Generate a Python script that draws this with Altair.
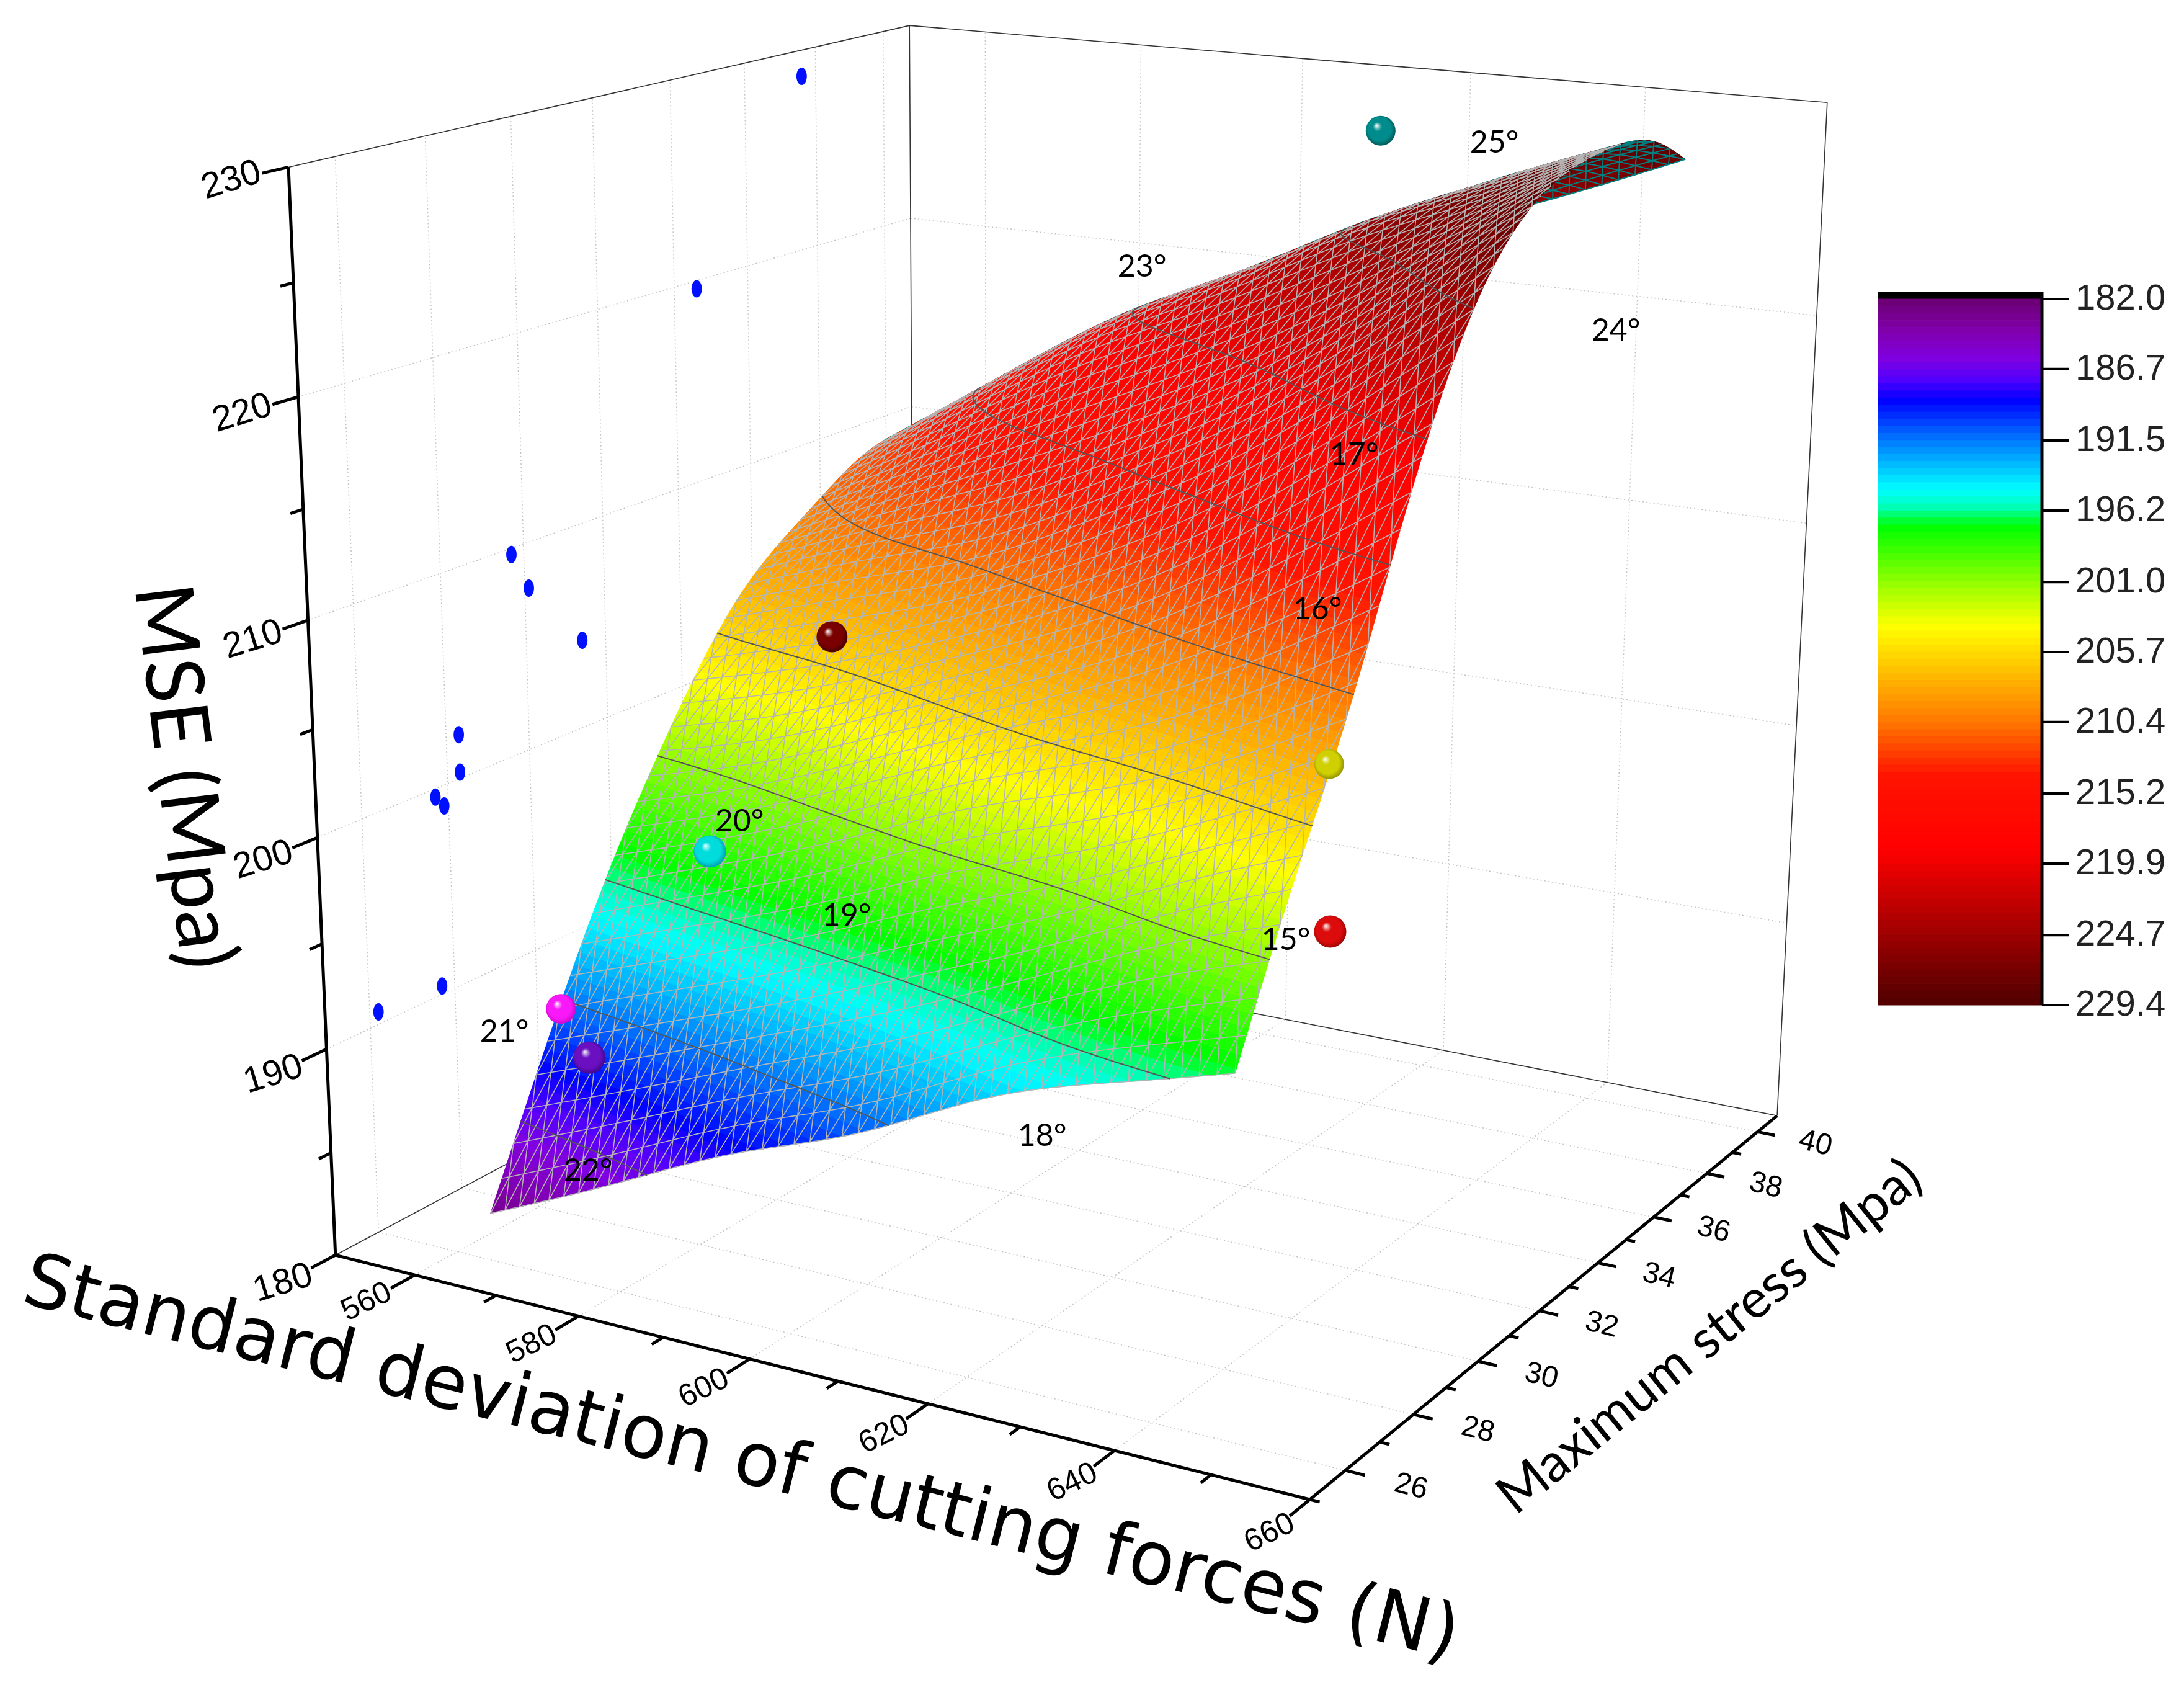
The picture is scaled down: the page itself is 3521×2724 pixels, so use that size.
import numpy as np
import altair as alt

alt.data_transformers.disable_max_rows()

# ---------- values ----------
F_TICKS = [560, 580, 600, 620, 640, 660]
F_MINOR = [570, 590, 610, 630, 650]
S_TICKS = [26, 28, 30, 32, 34, 36, 38, 40]
S_MINOR = [27, 29, 31, 33, 35, 37, 39]
Z_TICKS = [180, 190, 200, 210, 220, 230]
Z_MINOR = [185, 195, 205, 215, 225]
F_RANGE = (550.0, 660.0)
S_RANGE = (25.0, 40.8)
Z_RANGE = (180.0, 230.0)
BAR_TICKS = [182.0, 186.7, 191.5, 196.2, 201.0, 205.7, 210.4, 215.2, 219.9, 224.7, 229.4]

# Surface: MSE read (via its contour lines and colours) at these nodes.
# The nodes are resampled with a spline only to draw a smooth shaded mesh.
SURF_F = [567, 582, 596, 610, 625, 640, 650]
SURF_S = [25.5, 27, 28.5, 30, 32, 34, 36, 38, 39]
SURF_Z = [
    [183.1, 190.0, 196.3, 201.5, 207.0, 210.0, 212.0, 211.0, 209.5],
    [185.9, 192.2, 198.4, 203.2, 209.0, 213.0, 216.0, 215.0, 213.5],
    [188.6, 194.3, 200.6, 205.4, 210.8, 215.8, 219.5, 218.5, 217.3],
    [190.8, 196.6, 203.0, 207.6, 213.5, 218.5, 222.2, 221.5, 220.9],
    [193.8, 199.2, 205.0, 210.4, 217.0, 221.8, 225.3, 224.5, 223.7],
    [195.8, 202.0, 207.6, 214.2, 221.5, 225.8, 227.7, 227.5, 226.1],
    [197.0, 203.6, 209.8, 217.0, 224.8, 228.5, 229.5, 229.0, 227.8],
]

WALL_S = [26.2, 27.7, 27.9, 27.7, 28.3, 28.3, 31.4, 30.1, 29.7, 34.6, 37.6]
WALL_Z = [190.6, 190.4, 199.0, 199.6, 200.3, 202.1, 204.3, 207.8, 209.7, 219.6, 228.7]

BALL_F = [577, 566, 584, 588.5, 639, 650, 621.6]
BALL_S = [26.0, 27.5, 27.6, 29.8, 31.1, 28.1, 37.3]
BALL_Z = [190.9, 190.8, 199.6, 208.1, 204.6, 200.6, 228.8]
BALL_BASE = ["#6a10c0", "#f818f8", "#00dcdc", "#7a0000", "#d0d000", "#dc0c0c", "#008c8c"]
BALL_DARK = ["#2c0070", "#b000b0", "#007a9a", "#280000", "#707000", "#800000", "#003c3c"]
BALL_R = [26, 24, 26, 25, 24, 26, 24]

NOTE_TEXT = ["25°", "23°", "24°", "17°", "16°", "20°", "19°", "15°", "21°", "22°", "18°"]
NOTE_X = [2409, 1841, 2605, 2183, 2124, 1192, 1365, 2073, 813, 948, 1680]
NOTE_Y = [231, 431, 534, 734, 983, 1325, 1477, 1516, 1664, 1888, 1832]

PALETTE_Z = [182, 184, 186, 187.5, 188.8, 191.5, 194.8, 195.9, 197.3, 201, 204, 207, 210.4, 214, 219, 222.7, 227.4, 229.4]
PALETTE_C = ["#6a0070", "#8000a8", "#8000e0", "#5000ff", "#0000ff", "#0078ff", "#00ffff", "#00ffc0",
             "#00ff00", "#90ff00", "#ffff00", "#ffc000", "#ff7800", "#ff1400", "#ff0000", "#c00000", "#700000", "#500000"]

# ---------- camera: fitted to the box's corners and a few ticks ----------
CAL = [
    (550, 25, 180, 542, 2022), (550, 25, 230, 466, 268), (660, 25, 180, 2114, 2416),
    (660, 40.8, 180, 2867, 1797), (660, 40.8, 230, 2944, 164), (550, 40.8, 230, 1469, 41),
    (550, 40.8, 180, 1474, 1525), (550, 25, 220, 478, 643), (550, 25, 185, 534, 1860),
    (580, 25, 180, 931, 2120), (560, 25, 180, 668, 2055), (660, 26, 180, 2171, 2369),
    (660, 32, 180, 2481, 2112), (660, 38, 180, 2749, 1897),
]


def unit(F, S, Z):
    return ((np.asarray(F, float) - F_RANGE[0]) / (F_RANGE[1] - F_RANGE[0]),
            (np.asarray(S, float) - S_RANGE[0]) / (S_RANGE[1] - S_RANGE[0]),
            (np.asarray(Z, float) - Z_RANGE[0]) / (Z_RANGE[1] - Z_RANGE[0]))


rows, rhs = [], []
for F, S, Z, x, y in CAL:
    u, v, w = unit(F, S, Z)
    rows.append([u, v, w, 1, 0, 0, 0, 0, -x * u, -x * v, -x * w]); rhs.append(x)
    rows.append([0, 0, 0, 0, u, v, w, 1, -y * u, -y * v, -y * w]); rhs.append(y)
P = np.linalg.lstsq(np.array(rows, float), np.array(rhs, float), rcond=None)[0]


def proj(F, S, Z):
    u, v, w = unit(F, S, Z)
    q = P[8] * u + P[9] * v + P[10] * w + 1
    return (P[0] * u + P[1] * v + P[2] * w + P[3]) / q, (P[4] * u + P[5] * v + P[6] * w + P[7]) / q


def pl(F, S, Z):
    x, y = proj(F, S, Z)
    return [float(x), float(y)]


def spline(xs, ys, xq):
    xs, ys = np.asarray(xs, float), np.asarray(ys, float)
    n = len(xs); h = np.diff(xs)
    A = np.zeros((n, n)); b = np.zeros(n); A[0, 0] = A[-1, -1] = 1
    for i in range(1, n - 1):
        A[i, i - 1], A[i, i], A[i, i + 1] = h[i - 1], 2 * (h[i - 1] + h[i]), h[i]
        b[i] = 6 * ((ys[i + 1] - ys[i]) / h[i] - (ys[i] - ys[i - 1]) / h[i - 1])
    M = np.linalg.solve(A, b)
    k = np.clip(np.searchsorted(xs, xq) - 1, 0, n - 2)
    t0, t1 = xs[k + 1] - xq, xq - xs[k]
    return (M[k] * t0 ** 3 + M[k + 1] * t1 ** 3) / (6 * h[k]) + (ys[k] / h[k] - M[k] * h[k] / 6) * t0 + (
        ys[k + 1] / h[k] - M[k + 1] * h[k] / 6) * t1


# ---------- drawing mesh ----------
NC, NR = 46, 46
NF, NS = 2 * NC, 2 * NR
fF = np.linspace(SURF_F[0], SURF_F[-1], NF + 1)
fS = np.linspace(SURF_S[0], SURF_S[-1], NS + 1)
tab = np.array(SURF_Z, float)
bySF = np.array([spline(SURF_F, [tab[c][j] for c in range(len(SURF_F))], fF) for j in range(len(SURF_S))])
ZZ = np.array([spline(SURF_S, bySF[:, i], fS) for i in range(NF + 1)])  # ZZ[i][j]: F index, S index
GF, GS = np.meshgrid(fF, fS, indexing="ij")
PX, PY = proj(GF, GS, ZZ)


def quad_area(i, j):
    xs = [PX[i, j], PX[i + 1, j], PX[i + 1, j + 1], PX[i, j + 1]]
    ys = [PY[i, j], PY[i + 1, j], PY[i + 1, j + 1], PY[i, j + 1]]
    return 0.5 * sum(xs[k] * ys[(k + 1) % 4] - xs[(k + 1) % 4] * ys[k] for k in range(4))


ref_sign = np.sign(quad_area(NF // 2, 0))
FRONT = np.array([[quad_area(i, j) * ref_sign > 0 for j in range(NS)] for i in range(NF)])

N_BANDS = 100
Z0, Z1 = BAR_TICKS[0], BAR_TICKS[-1]
DZ = (Z1 - Z0) / N_BANDS


def hex2rgb(c):
    return np.array([int(c[k:k + 2], 16) for k in (1, 3, 5)], float)


PAL_RGB = np.array([hex2rgb(c) for c in PALETTE_C])


def band_colour(b):
    z = Z0 + (b + 0.5) * DZ
    rgb = [np.interp(z, PALETTE_Z, PAL_RGB[:, k]) for k in range(3)]
    return "#%02x%02x%02x" % tuple(int(round(v)) for v in rgb)


def clip(poly, level, keep_above):
    out = []
    for k in range(len(poly)):
        a, b = poly[k], poly[(k + 1) % len(poly)]
        ina = (a[2] >= level) == keep_above
        inb = (b[2] >= level) == keep_above
        if ina:
            out.append(a)
        if ina != inb:
            t = (level - a[2]) / (b[2] - a[2])
            out.append((a[0] + t * (b[0] - a[0]), a[1] + t * (b[1] - a[1]), level))
    return out


polys = {True: {}, False: {}}
segs_c = []
LEVELS = BAR_TICKS[1:-1]
for i in range(NF):
    for j in range(NS):
        q = [(PX[i, j], PY[i, j], ZZ[i, j]), (PX[i + 1, j], PY[i + 1, j], ZZ[i + 1, j]),
             (PX[i + 1, j + 1], PY[i + 1, j + 1], ZZ[i + 1, j + 1]), (PX[i, j + 1], PY[i, j + 1], ZZ[i, j + 1])]
        zs = [p[2] for p in q]
        b0 = int(np.clip(np.floor((min(zs) - Z0) / DZ), 0, N_BANDS - 1))
        b1 = int(np.clip(np.floor((max(zs) - Z0) / DZ), 0, N_BANDS - 1))
        fr = bool(FRONT[i, j])
        for b in range(b0, b1 + 1):
            pg = q
            if b > b0:
                pg = clip(pg, Z0 + b * DZ, True)
            if b < b1 and pg:
                pg = clip(pg, Z0 + (b + 1) * DZ, False)
            if len(pg) >= 3:
                ring = [[float(p[0]), float(p[1])] for p in pg]
                ring.append(ring[0])
                polys[fr].setdefault(b, []).append([ring])
        if fr:
            for lev in LEVELS:
                if min(zs) <= lev <= max(zs):
                    pts = []
                    for k in range(4):
                        a, c = q[k], q[(k + 1) % 4]
                        if (a[2] < lev) != (c[2] < lev):
                            t = (lev - a[2]) / (c[2] - a[2])
                            pts.append([float(a[0] + t * (c[0] - a[0])), float(a[1] + t * (c[1] - a[1]))])
                    if len(pts) >= 2:
                        segs_c.append(pts[:2])


def band_features(front):
    return [{"type": "Feature", "properties": {"c": band_colour(b)},
             "geometry": {"type": "MultiPolygon", "coordinates": polys[front][b]}}
            for b in sorted(polys[front])]


mesh = {True: [], False: []}
for r in range(NR + 1):
    j = 2 * r
    for i in range(NF):
        fr = bool(FRONT[i, min(j, NS - 1)])
        mesh[fr].append([[float(PX[i, j]), float(PY[i, j])], [float(PX[i + 1, j]), float(PY[i + 1, j])]])
for r in range(NR):
    j = 2 * r
    start = r % 2
    for i in range(start, NF + 1, 2):
        for d in (-1, 1):
            k = i + d
            if 0 <= k <= NF:
                fr = bool(FRONT[min(min(i, k), NF - 1), j])
                mesh[fr].append([[float(PX[i, j]), float(PY[i, j])], [float(PX[k, j + 2]), float(PY[k, j + 2])]])

# ---------- chart helpers ----------
PROJ = alt.Projection(type="identity", scale=1, translate=[-8, -8])


def geo_lines(lines, **mark):
    feat = [{"type": "Feature", "properties": {},
             "geometry": {"type": "MultiLineString", "coordinates": lines}}]
    return alt.Chart(alt.Data(values=feat)).mark_geoshape(filled=False, **mark).properties(projection=PROJ)


def bands_layer(features):
    return alt.Chart(alt.Data(values=features)).mark_geoshape(strokeWidth=1).encode(
        fill=alt.Fill("properties.c:N", scale=None),
        stroke=alt.Stroke("properties.c:N", scale=None)).properties(projection=PROJ)


def text_layer(recs, **mark):
    return alt.Chart(alt.Data(values=recs)).mark_text(**mark).encode(
        longitude="lon:Q", latitude="lat:Q", text="t:N").properties(projection=PROJ)


def tl(label, p):
    return {"t": label, "lon": p[0], "lat": p[1]}


FL, FH = F_RANGE
SL, SH = S_RANGE
ZL, ZH = Z_RANGE
layers = []

# walls' dotted grid
grid = []
for f in F_TICKS[:-1]:
    grid += [[pl(f, SL, ZL), pl(f, SH, ZL)], [pl(f, SH, ZL), pl(f, SH, ZH)]]
for s in S_TICKS:
    grid += [[pl(FL, s, ZL), pl(FH, s, ZL)], [pl(FL, s, ZL), pl(FL, s, ZH)]]
for z in Z_TICKS[1:-1]:
    grid += [[pl(FL, SL, z), pl(FL, SH, z)], [pl(FL, SH, z), pl(FH, SH, z)]]
layers.append(geo_lines(grid, stroke="#c4c4c4", strokeWidth=1.5, strokeDash=[2, 4]))

# thin box edges
edges = [[pl(FL, SL, ZL), pl(FL, SH, ZL)], [pl(FL, SH, ZL), pl(FH, SH, ZL)], [pl(FL, SL, ZH), pl(FL, SH, ZH)],
         [pl(FL, SH, ZH), pl(FH, SH, ZH)], [pl(FL, SH, ZL), pl(FL, SH, ZH)], [pl(FH, SH, ZL), pl(FH, SH, ZH)]]
layers.append(geo_lines(edges, stroke="#333333", strokeWidth=1.6))

# thick axes and ticks
axes = [[pl(FL, SL, ZL), pl(FL, SL, ZH)], [pl(FL, SL, ZL), pl(FH, SL, ZL)], [pl(FH, SL, ZL), pl(FH, SH, ZL)]]
layers.append(geo_lines(axes, stroke="#000000", strokeWidth=5))
ds = 0.035 * (SH - SL)
df = 0.018 * (FH - FL)
ticks = []
for f in F_TICKS:
    ticks.append([pl(f, SL, ZL), pl(f, SL - ds, ZL)])
for s in S_TICKS:
    ticks.append([pl(FH, s, ZL), pl(FH + df, s, ZL)])
for z in Z_TICKS:
    ticks.append([pl(FL, SL, z), pl(FL, SL - ds, z)])
for f in F_MINOR:
    ticks.append([pl(f, SL, ZL), pl(f, SL - ds / 2, ZL)])
for s in S_MINOR + [SL]:
    ticks.append([pl(FH, s, ZL), pl(FH + df / 2, s, ZL)])
for z in Z_MINOR:
    ticks.append([pl(FL, SL, z), pl(FL, SL - ds / 2, z)])
layers.append(geo_lines(ticks, stroke="#000000", strokeWidth=5))

# tick labels
SANS = "Liberation Sans"
layers.append(text_layer([tl(str(f), pl(f, SL - 0.07 * (SH - SL), ZL)) for f in F_TICKS],
                         font=SANS, fontSize=50, angle=334, align="center", baseline="middle", color="#000000"))
layers.append(text_layer([tl(str(s), pl(FH + 0.06 * (FH - FL), s, ZL)) for s in S_TICKS],
                         font=SANS, fontSize=48, angle=14, align="center", baseline="middle", color="#000000"))
layers.append(text_layer([tl(str(z), pl(FL, SL - 0.075 * (SH - SL), z)) for z in Z_TICKS],
                         font=SANS, fontSize=58, angle=343, align="center", baseline="middle", color="#000000"))

# points flattened on the left wall
ELLIPSE = "M-0.6,0A0.6,1 0 1,1 0.6,0A0.6,1 0 1,1 -0.6,0Z"
wall = [{"lon": pl(FL, s, z)[0], "lat": pl(FL, s, z)[1]} for s, z in zip(WALL_S, WALL_Z)]
layers.append(alt.Chart(alt.Data(values=wall)).mark_point(
    shape=ELLIPSE, filled=True, fill="#0010ff", stroke="#0010ff", strokeWidth=0, size=784, opacity=1).encode(
    longitude="lon:Q", latitude="lat:Q").properties(projection=PROJ))

# the surface: back faces first
if polys[False]:
    layers.append(bands_layer(band_features(False)))
    layers.append(geo_lines(mesh[False], stroke="#008080", strokeWidth=2))
layers.append(bands_layer(band_features(True)))
layers.append(geo_lines(mesh[True], stroke="#b4b4b4", strokeWidth=1.6))
layers.append(geo_lines(segs_c, stroke="#555555", strokeWidth=2, strokeCap="round"))

# balls
for f, s, z, base, dark, r in zip(BALL_F, BALL_S, BALL_Z, BALL_BASE, BALL_DARK, BALL_R):
    x, y = pl(f, s, z)
    grad = {"gradient": "radial", "x1": 0.36, "y1": 0.32, "r1": 0, "x2": 0.5, "y2": 0.5, "r2": 0.6,
            "stops": [{"offset": 0, "color": "#ffffff"}, {"offset": 0.25, "color": base},
                      {"offset": 0.65, "color": base}, {"offset": 1, "color": dark}]}
    layers.append(alt.Chart(alt.Data(values=[{"lon": x, "lat": y}])).mark_point(
        shape="circle", filled=True, fill=grad, strokeWidth=0, size=float(4 * r * r), opacity=1).encode(
        longitude="lon:Q", latitude="lat:Q").properties(projection=PROJ))

# notes and axis titles
layers.append(text_layer([{"t": t, "lon": x, "lat": y} for t, x, y in zip(NOTE_TEXT, NOTE_X, NOTE_Y)],
                         font="Lato", fontSize=50, align="center", baseline="middle", color="#000000"))
layers.append(text_layer([{"t": "MSE (Mpa)", "lon": 294, "lat": 1252}], font="Lato", fontSize=130, angle=83,
                         align="center", baseline="middle", color="#000000"))
layers.append(text_layer([{"t": "Standard deviation of cutting forces (N)", "lon": 1195, "lat": 2352}],
                         font="DejaVu Sans", fontSize=120, angle=14, align="center", baseline="middle",
                         color="#000000"))
layers.append(text_layer([{"t": "Maximum stress (Mpa)", "lon": 2757, "lat": 2156}], font="Lato", fontSize=86,
                         angle=321, align="center", baseline="middle", color="#000000"))

# colour bar
BAR_X0, BAR_X1, BAR_TOP, BAR_Y0, BAR_Y1 = 3028, 3292, 471, 482, 1620


def bar_y(v):
    return BAR_Y0 + (v - Z0) / (Z1 - Z0) * (BAR_Y1 - BAR_Y0)


def rect_feature(x0, y0, x1, y1, c):
    return {"type": "Feature", "properties": {"c": c}, "geometry": {"type": "Polygon", "coordinates": [
        [[x0, y0], [x1, y0], [x1, y1], [x0, y1], [x0, y0]]]}}


bar = [rect_feature(BAR_X0, BAR_TOP, BAR_X1, BAR_Y0, "#000000")]
for b in range(N_BANDS):
    bar.append(rect_feature(BAR_X0, bar_y(Z0 + b * DZ), BAR_X1, bar_y(Z0 + (b + 1) * DZ), band_colour(b)))
layers.append(bands_layer(bar))
layers.append(geo_lines([[[BAR_X1, BAR_TOP], [BAR_X1, BAR_Y1]]], stroke="#000000", strokeWidth=5))
layers.append(geo_lines([[[BAR_X1, bar_y(v)], [3335, bar_y(v)]] for v in BAR_TICKS], stroke="#000000", strokeWidth=4))
layers.append(text_layer([{"t": "%.1f" % v, "lon": 3346, "lat": bar_y(v)} for v in BAR_TICKS], font=SANS, fontSize=58,
                         align="left", baseline="middle", color="#222222"))

chart = alt.layer(*layers).properties(width=3505, height=2708, padding=0, autosize=alt.AutoSizeParams(type="none"),
                                      background="white").configure_view(stroke=None)
chart.save("out.html", embed_options={"renderer": "svg", "actions": False})
